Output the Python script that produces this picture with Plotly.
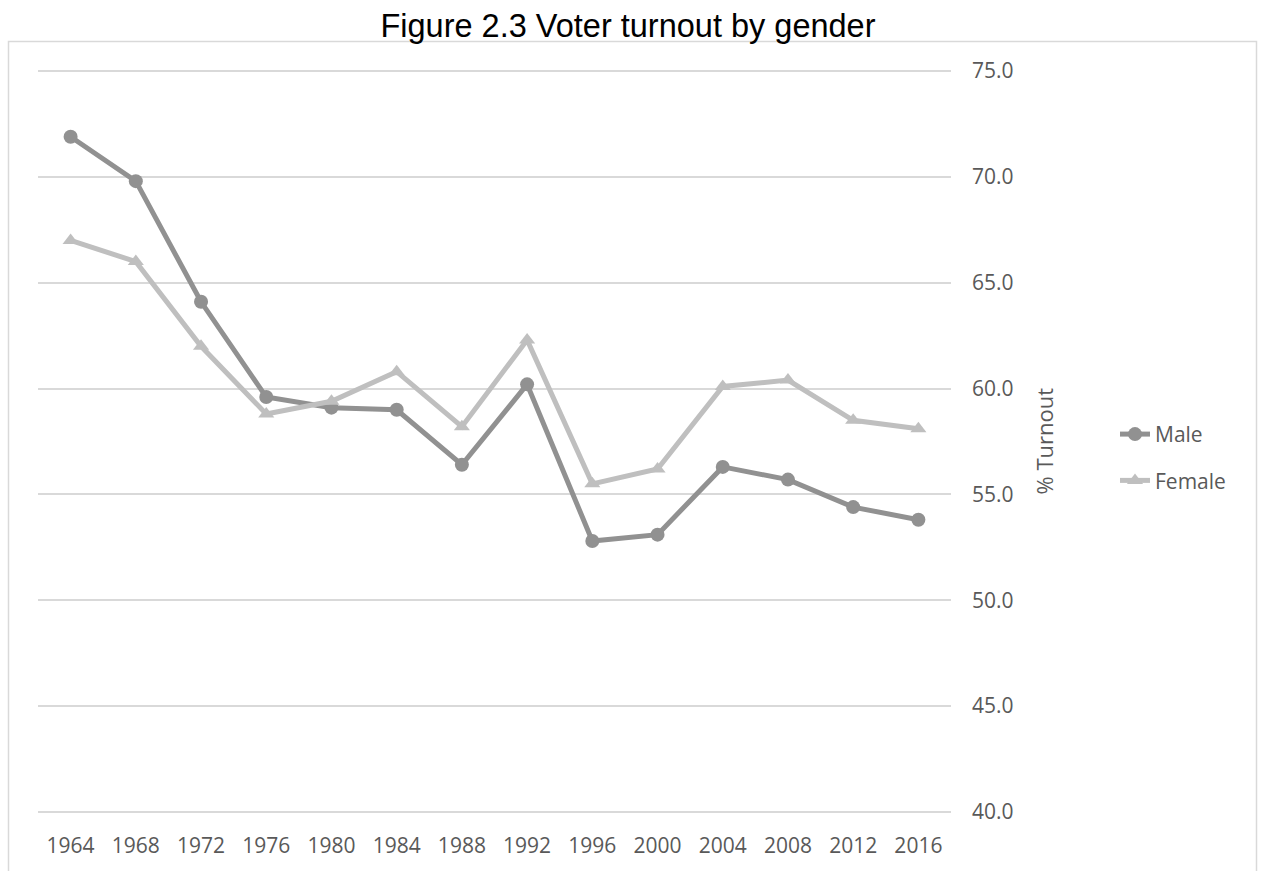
import plotly.graph_objects as go

# Presidential election years and turnout (%) by gender
years = ["1964", "1968", "1972", "1976", "1980", "1984", "1988",
         "1992", "1996", "2000", "2004", "2008", "2012", "2016"]
male = [71.9, 69.8, 64.1, 59.6, 59.1, 59.0, 56.4, 60.2, 52.8, 53.1, 56.3, 55.7, 54.4, 53.8]
female = [67.0, 66.0, 62.0, 58.8, 59.4, 60.8, 58.2, 62.3, 55.5, 56.2, 60.1, 60.4, 58.5, 58.1]
y_ticks = [40, 45, 50, 55, 60, 65, 70, 75]

W, H = 1261, 871
# pad the value range a touch so the 40 and 75 gridlines are drawn
Y_LO, Y_HI = 39.9, 75.1
PX_PER_UNIT = 106.3 / 5
L, R = 38, 310
T = round(70.7 - (Y_HI - 75) * PX_PER_UNIT)
B = round(H - (815 + (40 - Y_LO) * PX_PER_UNIT))
plot_w = W - L - R
plot_h = H - T - B

def px_x(px):
    return (px - L) / plot_w

def px_y(py):
    return (H - B - py) / plot_h

label_font = dict(family="Open Sans", size=21, color="#595959")

fig = go.Figure()
fig.add_trace(go.Scatter(
    x=years, y=male, name="Male", mode="lines+markers",
    line=dict(color="#919191", width=5),
    marker=dict(symbol="circle", size=14, color="#919191"),
    legendgroup="m",
))
fig.add_trace(go.Scatter(
    x=years, y=female, name="Female", mode="lines+markers",
    line=dict(color="#bfbfbf", width=5),
    marker=dict(symbol="triangle-up", size=14, color="#bfbfbf"),
    legendgroup="f",
))

fig.update_layout(
    width=W, height=H,
    margin=dict(l=L, r=R, t=T, b=B),
    paper_bgcolor="white", plot_bgcolor="white",
    title=dict(
        text="Figure 2.3 Voter turnout by gender",
        x=628 / W, xanchor="center",
        y=1 - 26 / H, yanchor="middle",
        font=dict(family="Liberation Sans", size=32.5, color="black"),
    ),
    xaxis=dict(
        type="category", range=[-0.5, 13.5],
        showgrid=False, zeroline=False, showline=False,
        ticks="", tickfont=label_font, ticklabelstandoff=17,
    ),
    yaxis=dict(
        side="right", range=[Y_LO, Y_HI],
        tickvals=y_ticks, tickformat=".1f",
        showgrid=True, gridcolor="#d9d9d9", gridwidth=1.5,
        zeroline=False, showline=False, ticks="",
        tickfont=label_font, ticklabelstandoff=20,
    ),
    legend=dict(
        x=px_x(1115), xanchor="left",
        y=px_y(459), yanchor="middle",
        font=label_font, tracegroupgap=16,
        bgcolor="rgba(0,0,0,0)",
    ),
    showlegend=True,
    shapes=[dict(
        type="rect", xref="paper", yref="paper",
        x0=px_x(8.5), x1=px_x(1256.5), y0=px_y(880), y1=px_y(41.5),
        line=dict(color="#d9d9d9", width=1.5), fillcolor="rgba(0,0,0,0)",
        layer="below",
    )],
    annotations=[dict(
        text="% Turnout", textangle=-90,
        xref="paper", yref="paper",
        x=px_x(1043), y=px_y(443),
        xanchor="center", yanchor="middle", showarrow=False,
        font=dict(family="Open Sans", size=22, color="#595959"),
    )],
)

fig.write_html("out.html")
